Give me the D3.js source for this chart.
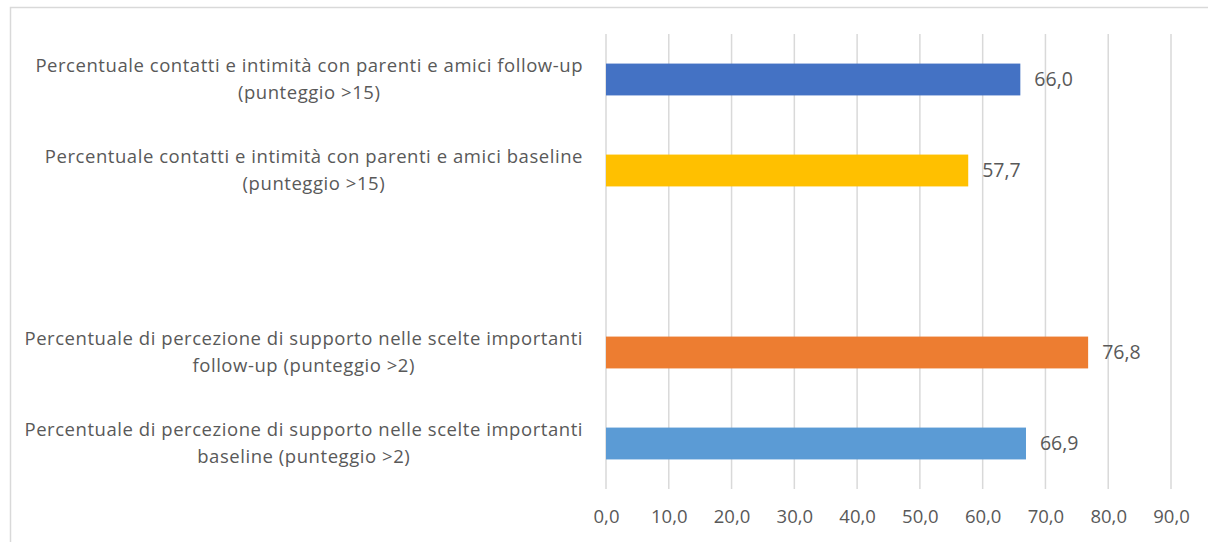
<!DOCTYPE html>
<html>
<head>
<meta charset="utf-8">
<script src="https://cdn.jsdelivr.net/npm/d3@7"></script>
<style>
  body { margin: 0; background: #fff; }
  svg { display: block; font-family: "Open Sans", Lato, sans-serif; }
  .tick text { fill: #595959; }
</style>
</head>
<body>
<svg id="chart"></svg>
<script>
// category labels (top to bottom), one empty slot in the middle
var categories = [
    ["Percentuale contatti e intimità con parenti e amici follow-up", "(punteggio >15)"],
    ["Percentuale contatti e intimità con parenti e amici baseline", "(punteggio >15)"],
    [],
    ["Percentuale di percezione di supporto nelle scelte importanti", "follow-up (punteggio >2)"],
    ["Percentuale di percezione di supporto nelle scelte importanti", "baseline (punteggio >2)"]
];
var values = [66.0, 57.7, null, 76.8, 66.9];
var barColors = ["#4472C4", "#FFC000", "none", "#ED7D31", "#5B9BD5"];
var xTicks = [0, 10, 20, 30, 40, 50, 60, 70, 80, 90];

var options = {
    width: 1208,
    height: 542,
    plotLeft: 606,
    plotRight: 1171,
    plotTop: 34,
    plotBottom: 489,
    labelRight: 583,
    lineGap: 27,
    fontSize: 18.5,
    textColor: "#595959",
    gridColor: "#D9D9D9"
};

var svg = d3.select("#chart")
    .attr("width", options.width)
    .attr("height", options.height);

// outer chart border
svg.append("rect")
    .attr("x", 10.5).attr("y", 7.5)
    .attr("width", 1210).attr("height", 560)
    .style("fill", "none")
    .style("stroke", options.gridColor)
    .style("stroke-width", 1.5);

var xScale = d3.scaleLinear()
    .domain([0, 90])
    .range([options.plotLeft, options.plotRight]);

var yScale = d3.scaleBand()
    .domain(d3.range(categories.length))
    .range([options.plotTop, options.plotBottom])
    .paddingInner(0.65)
    .paddingOuter(0.325);

// gridlines
svg.append("g").attr("class", "grid")
    .selectAll("line")
    .data(xTicks)
    .enter().append("line")
    .attr("x1", d => xScale(d)).attr("x2", d => xScale(d))
    .attr("y1", options.plotTop).attr("y2", options.plotBottom)
    .style("stroke", options.gridColor)
    .style("stroke-width", 1.5);

// x axis labels
var xAxis = d3.axisBottom(xScale)
    .tickValues(xTicks)
    .tickSize(0)
    .tickPadding(0)
    .tickFormat(d => d3.format(".1f")(d).replace(".", ","));

var xAxisG = svg.append("g")
    .attr("class", "x axis")
    .attr("transform", "translate(0," + (options.plotBottom + 21) + ")")
    .call(xAxis);
xAxisG.select(".domain").remove();
xAxisG.selectAll("text")
    .style("font-size", options.fontSize + "px")
    .style("font-family", "'Open Sans', sans-serif");

// bars
var rows = categories.map(function(c, i) {
    return { idx: i, lines: c, value: values[i], color: barColors[i] };
});

svg.append("g").attr("class", "bars")
    .selectAll("rect")
    .data(rows.filter(d => d.value !== null))
    .enter().append("rect")
    .attr("x", xScale(0))
    .attr("y", d => yScale(d.idx))
    .attr("width", d => xScale(d.value) - xScale(0))
    .attr("height", yScale.bandwidth())
    .style("fill", d => d.color);

// data labels
svg.append("g").attr("class", "data-labels")
    .selectAll("text")
    .data(rows.filter(d => d.value !== null))
    .enter().append("text")
    .attr("x", d => xScale(d.value) + 14)
    .attr("y", d => yScale(d.idx) + yScale.bandwidth() / 2)
    .attr("dy", "0.35em")
    .style("font-size", (options.fontSize + 1) + "px")
    .style("fill", options.textColor)
    .text(d => d3.format(".1f")(d.value).replace(".", ","));

// category labels, lines centred in a block that ends at labelRight
var labelG = svg.append("g").attr("class", "cat-labels");
rows.forEach(function(row) {
    if (!row.lines.length) return;
    var cy = yScale(row.idx) + yScale.bandwidth() / 2;
    var g = labelG.append("g");
    var texts = g.selectAll("text")
        .data(row.lines)
        .enter().append("text")
        .attr("y", (d, i) => cy + (i - (row.lines.length - 1) / 2) * options.lineGap)
        .attr("dy", "0.35em")
        .style("font-size", options.fontSize + "px")
        .style("letter-spacing", "0.55px")
        .style("fill", options.textColor)
        .style("text-anchor", "middle")
        .text(d => d);
    var maxW = d3.max(texts.nodes(), n => n.getComputedTextLength());
    texts.attr("x", options.labelRight - maxW / 2);
});
</script>
</body>
</html>
